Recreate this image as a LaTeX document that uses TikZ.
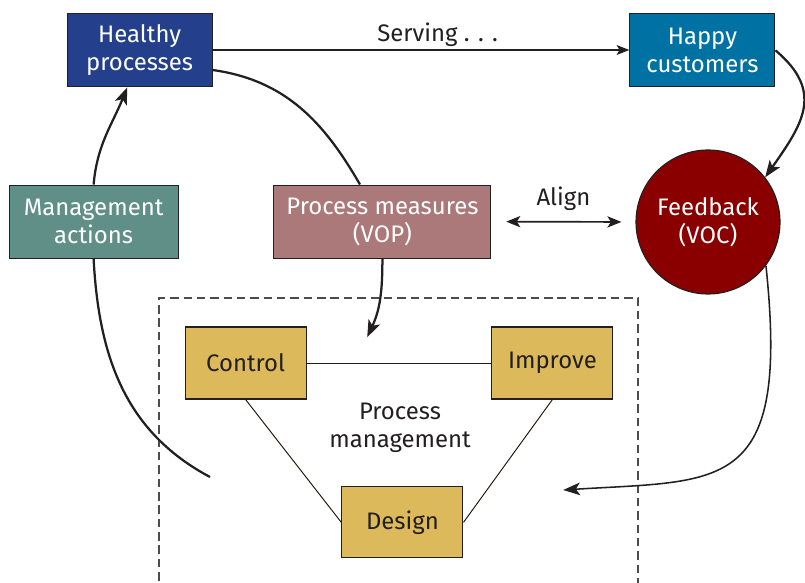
\documentclass[tikz,border=0pt]{standalone}
\usepackage{fontspec}
\setmainfont{Fira Sans}
\usepackage{tikz}
\usetikzlibrary{
  positioning,
  arrows.meta
}
\definecolor{healthyblue}{HTML}{243F8C}
\definecolor{happyblue}{HTML}{0071A3}
\definecolor{mgmtgreen}{HTML}{5F8F87}
\definecolor{measurerose}{HTML}{AB7979}
\definecolor{feedbackred}{HTML}{8A0000}
\definecolor{pmgold}{HTML}{DCB95B}
\definecolor{inktext}{HTML}{231F20}

\begin{document}
\begin{tikzpicture}[>={Stealth[length=12pt,width=9pt,inset=3pt]},
  box/.style={draw=inktext, line width=0.8pt, minimum height=1.825cm, align=center,
    text=white, inner sep=2pt, font=\fontsize{17}{20}\selectfont},
  pmbox/.style={box, fill=pmgold, text=inktext, minimum width=3.025cm, minimum height=1.8cm},
  flow/.style={line width=1.6pt, inktext},
  link/.style={line width=0.7pt, black!80!brown}]
  \useasboundingbox (0,0) rectangle (20.125,14.55);
  % top row and the loop boxes
  \node[box, fill=healthyblue, minimum width=3.625cm] (hp) at (3.49,13.29) {Healthy\\processes};
  \node[box, fill=happyblue, minimum width=3.625cm] (hc) at (17.56,13.29) {Happy\\customers};
  \node[box, fill=mgmtgreen, minimum width=4.225cm] (ma) at (2.34,9.01) {Management\\actions};
  \node[box, fill=measurerose, minimum width=5.425cm] (pm) at (9.56,9.01) {Process measures\\(VOP)};
  \node[circle, draw=inktext, line width=0.8pt, fill=feedbackred, minimum size=3.6cm, inner sep=0pt,
    align=center, text=white, font=\fontsize{17}{20}\selectfont] (fb) at (17.7,9.0) {Feedback\\(VOC)};
  % process management frame
  \draw[dashed, dash pattern=on 6pt off 3.5pt, line width=0.8pt, black!70] (3.975,-0.3) |- (15.95,7.1) -- (15.95,-0.3);
  \node[pmbox] (ctrl) at (6.14,5.475) {Control};
  \node[pmbox] (impr) at (13.81,5.475) {Improve};
  \node[pmbox, minimum height=1.775cm] (dsgn) at (10.06,1.49) {Design};
  \node[align=center, text=inktext, font=\fontsize{17}{20}\selectfont] (pmt) at (10.0,3.85) {Process\\management};
  \draw[link] (ctrl) -- (impr);
  \draw[link] (ctrl.south) -- (dsgn.west);
  \draw[link] (impr.south) -- (dsgn.east);
  % free ends inside the frame
  \coordinate (pmin) at (9.18,6.12);
  \coordinate (malow) at (5.25,2.625);
  \coordinate (fbin) at (14.08,2.3);
  % connectors
  \draw[->, line width=0.9pt, inktext, >={Stealth[length=9pt,width=7pt,inset=2pt]}] (hp.east |- 0,13.3) -- (hc.west |- 0,13.3)
    node[pos=0.54, above, inner sep=2pt, text=inktext, font=\fontsize{17}{20}\selectfont] (serve) {Serving . . .};
  \draw[<->, line width=1.2pt, inktext, >={Stealth[length=10pt,width=8pt,inset=2.5pt]},
    shorten <=0.37cm, shorten >=0.35cm] (pm.east) -- (fb.west)
    node[midway, above=4pt, text=inktext, font=\fontsize{17}{20}\selectfont] (alg) {Align};
  \draw[->, flow] (hc.east) to[out=-40, in=55, looseness=1.3] (fb.38);
  \draw[->, flow] (ma.north) to[out=85, in=-112] ([xshift=-0.31cm]hp.south);
  \draw[flow] ([yshift=-0.49cm]hp.east) to[out=-8, in=120] ([xshift=-0.56cm]pm.north);
  \draw[->, flow] (pm.south) to[out=-90, in=65] (pmin);
  \draw[flow] (ma.south) to[out=-87, in=152] (malow);
  \draw[->, line width=1.1pt, inktext] (fb.-37) .. controls +(0.6,-5.7) and +(4.0,0.25) .. (fbin);
\end{tikzpicture}
\end{document}
